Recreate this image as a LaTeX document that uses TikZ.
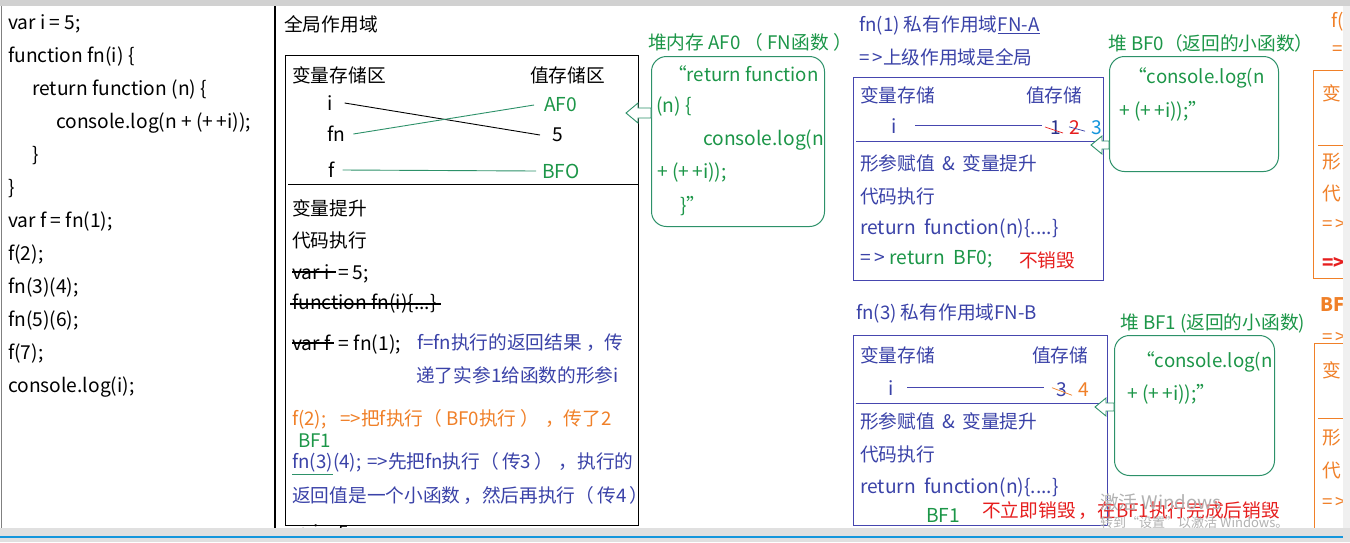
\documentclass[tikz,border=0pt]{standalone}
\usepackage{fontspec}
\setmainfont{Noto Sans CJK SC}
\usetikzlibrary{calc}
\definecolor{tblue}{RGB}{58,66,168}
\definecolor{tbline}{RGB}{70,70,175}
\definecolor{tgreen}{RGB}{28,150,72}
\definecolor{tgline}{RGB}{45,145,105}
\definecolor{torange}{RGB}{240,128,40}
\definecolor{tred}{RGB}{230,30,30}
\definecolor{tcyan}{RGB}{20,150,220}
\definecolor{tdark}{RGB}{40,50,140}
\newcommand\fsz{\fontsize{18.7}{20}\selectfont}
\newcommand\fsl{\fontsize{19.2}{20}\selectfont}
\newcommand\fsm{\fontsize{13}{15}\selectfont}
\begin{document}
\begin{tikzpicture}[x=1pt,y=-1pt,
  t/.style={anchor=west,inner sep=0pt,font=\fsz},
  tl/.style={t,font=\fsl},
  tb/.style={t,anchor=base west},
  bx/.style={draw,line width=1pt,anchor=north west,inner sep=0pt},
  heap/.style={bx,draw=tgline,rounded corners=15pt},
  harrow/.style={draw=tgline,line width=0.9pt,fill=white},
  strike/.style={line width=1.1pt}]
\useasboundingbox (0,0) rectangle (1350,542);
\fill[white] (0,0) rectangle (1350,542);

% ---------------- left code panel
\node[tl] (c1) at (8,24) {var i = 5;};
\node[tl] (c2) at (8,57) {function fn(i) \{};
\node[tl] (c3) at (32,90) {return function (n) \{};
\node[tl] (c4) at (56,123) {console.log(n + (+\,+i));};
\node[tl] (c5) at (32,156) {\}};
\node[tl] (c6) at (8,189) {\}};
\node[tl] (c7) at (8,222) {var f = fn(1);};
\node[tl] (c8) at (8,255) {f(2);};
\node[tl] (c9) at (8,288) {fn(3)(4);};
\node[tl] (c10) at (8,321) {fn(5)(6);};
\node[tl] (c11) at (8,354) {f(7);};
\node[tl] (c12) at (8,387) {console.log(i);};

% ---------------- global scope
\node[t] (gtitle) at (284,24) {全局作用域};
\node[bx,minimum width=353pt,minimum height=470pt] (gbox) at (285,55) {};
\coordinate (gl) at (288,184);
\draw[line width=1pt] (gl) -- (gbox.east |- gl);
\node[t] (vs) at (292,75) {变量存储区};
\node[t] (zs) at (530,75) {值存储区};
\node[tl] (gi) at (327,103) {i};
\node[tl] (gfn) at (327,134) {fn};
\node[tl] (gf) at (328,170) {f};
\node[tl,text=tgreen] (af0) at (544,105) {AF0};
\node[tl] (g5) at (552,135) {5};
\node[tl,text=tgreen] (bfo) at (542,171) {BFO};
\draw[line width=0.9pt] ([xshift=12pt]gi.east) -- ([xshift=-12pt]g5.west);
\draw[tgline,line width=0.9pt] ([xshift=8pt]gfn.east) -- ([xshift=-10pt]af0.west);
\draw[tgline,line width=0.9pt] ([xshift=8pt]gf.east) -- ([xshift=-6pt]bfo.west);

\node[t] (hs) at (292,208) {变量提升};
\node[t] (dz) at (292,240) {代码执行};
\node[tl] (vi) at (292,272) {var i};
\node[tl,anchor=base west] (vi2) at ([xshift=8pt]vi.base east) {= 5;};
\draw[strike] (vi.west) -- ([xshift=6pt]vi.east);
\node[tl] (ff) at (292,304) {function fn(i)\{...\}};
\draw[strike] ([xshift=-2pt]ff.west) -- ([xshift=4pt]ff.east);
\node[tl] (vf) at (292,343) {var f};
\node[tl,anchor=base west] (vf2) at ([xshift=8pt]vf.base east) {= fn(1);};
\draw[strike] (vf.west) -- ([xshift=3pt]vf.east);
\node[t,text=tblue] (n1) at (417,343) {f=fn执行的返回结果\hspace{4pt}，传};
\node[t,text=tblue] (n2) at (416,375) {递了实参1给函数的形参i};
\node[t,text=torange] (n3) at (292,419) {f(2);\hspace{14pt}=>把f执行（\hspace{4pt}BF0执行\hspace{4pt}）\hspace{6pt}，传了2};
\node[t,text=tgreen] (n4) at (298,441) {BF1};
\node[t,text=tblue] (n5a) at (292,463) {fn(3)};
\node[tb,text=tblue] (n5) at (n5a.base east) {(4);\hspace{6pt}=>先把fn执行（\hspace{3pt}传3\hspace{3pt}）\hspace{6pt}，执行的};
\draw[tgline,line width=1pt] ([yshift=-2pt]n5a.south west) -- ([yshift=-2pt]n5a.south east);
\node[t,text=tblue] (n6) at (292,495) {返回值是一个小函数\hspace{3pt}，然后再执行（\hspace{3pt}传4\hspace{3pt}）};
\node[tl] (n7) at (292,532) {=>i = 5};

% ---------------- heap AF0
\node[t,text=tgreen] (afT) at (648,42) {堆内存 AF0 （ FN函数 ）};
\node[heap,minimum width=173pt,minimum height=170pt] (afbox) at (651,56) {};
\node[t,text=tgreen] at (668,74) {“return function};
\node[tl,text=tgreen] at (656,107) {(n) \{};
\node[tl,text=tgreen] at (703,140) {console.log(n};
\node[tl,text=tgreen] at (657,173) {+ (+\,+i));};
\node[tl,text=tgreen] at (680,206) {\}”};
\coordinate (a1) at ([yshift=-57pt]afbox.north west);
\draw[harrow] (a1) ++(0,-5) -- ++(-13,0) -- ++(0,-5) -- ++(-12,10) -- ++(12,10) -- ++(0,-5) -- ++(13,0) -- cycle;

% ---------------- fn(1) scope FN-A
\node[t,text=tblue] (faT) at (859,25) {fn(1) 私有作用域};
\node[tb,text=tblue] (fna) at (faT.base east) {FN-A};
\draw[tblue,line width=1pt] ([yshift=-2pt]fna.south west) -- ([yshift=-2pt]fna.south east);
\node[t,text=tblue] (faU) at (859,57) {=\,>上级作用域是全局};
\node[bx,draw=tbline,minimum width=250pt,minimum height=203pt] (fabox) at (853,77) {};
\coordinate (fl) at (856,141);
\draw[tbline,line width=1pt] (fl) -- (fabox.east |- fl);
\node[t,text=tblue] at (860,95) {变量存储};
\node[t,text=tblue] at (1026,95) {值存储};
\node[tl,text=tblue] (fai) at (891,126) {i};
\draw[tbline,line width=1pt] (915,125) -- (1042,125);
\node[tl,text=tdark] (v1) at (1050,128) {1};
\node[tl,text=tred] (v2) at (1069,128) {2};
\node[tl,text=tcyan] (v3) at (1091,128) {3};
\draw[tred,line width=0.7pt] ([shift={(-5,6)}]v1.north west) -- ([shift={(2,-2)}]v1.south east);
\draw[tblue,line width=0.7pt] ([shift={(0,6)}]v2.north west) -- ([shift={(5,-4)}]v2.south east);
\node[t,text=tblue] at (860,163) {形参赋值 \,\&\, 变量提升};
\node[t,text=tblue] at (860,196) {代码执行};
\node[tl,text=tblue] at (860,229) {return\ \ function(n)\{....\}};
\node[tl,text=tblue] (ra) at (860,259) {=\,>};
\node[tl,anchor=base west,text=tgreen] (rb) at (ra.base east) {\ return\ \ BF0;};
\node[t,text=tred] at (1019,260) {不销毁};

% ---------------- heap BF0
\node[t,text=tgreen] (b0T) at (1108,43) {堆 BF0（返回的小函数）};
\node[heap,minimum width=169pt,minimum height=115pt] (b0box) at (1109,56) {};
\node[t,text=tgreen] at (1128,78) {“console.log(n};
\node[tl,text=tgreen] at (1119,111) {+ (+\,+i));”};
\coordinate (a2) at ([yshift=-89pt]b0box.north west);
\draw[harrow] (a2) ++(0,-4) -- ++(-7,0) -- ++(0,-5) -- ++(-11,9) -- ++(11,9) -- ++(0,-5) -- ++(7,0) -- cycle;

% ---------------- fn(3) scope FN-B
\node[t,text=tblue] (fbT) at (856,313) {fn(3) 私有作用域FN-B};
\node[bx,draw=tbline,minimum width=254pt,minimum height=190pt] (fbbox) at (853,335) {};
\coordinate (fbl) at (856,403);
\draw[tbline,line width=1pt] (fbl) -- (fbbox.east |- fbl);
\node[t,text=tblue] at (860,355) {变量存储};
\node[t,text=tblue] at (1032,355) {值存储};
\node[tl,text=tblue] (fbi) at (888,388) {i};
\draw[tbline,line width=1pt] (907,387) -- (1044,387);
\node[tl,text=tblue] (w3) at (1056,390) {3};
\node[tl,text=torange] (w4) at (1078,390) {4};
\draw[torange,line width=0.7pt] ([shift={(-4,5)}]w3.north west) -- ([shift={(5,-2)}]w3.south east);
\node[t,text=tblue] at (860,421) {形参赋值 \,\&\, 变量提升};
\node[t,text=tblue] at (860,454) {代码执行};
\node[tl,text=tblue] at (860,488) {return\ \ function(n)\{....\}};
\node[tl,text=tgreen] at (926,515) {BF1};
\node[t,text=tred] at (982,511) {不立即销毁\hspace{3pt}，在BF1执行完成后销毁};

% ---------------- heap BF1
\node[t,text=tgreen] (b1T) at (1120,323) {堆 BF1 (返回的小函数)};
\node[heap,minimum width=160pt,minimum height=140pt] (b1box) at (1114,335) {};
\node[t,text=tgreen] at (1136,362) {“console.log(n};
\node[tl,text=tgreen] at (1127,394) {+ (+\,+i));”};
\coordinate (a3) at ([yshift=-72pt]b1box.north west);
\draw[harrow] (a3) ++(0,-4) -- ++(-8,0) -- ++(0,-5) -- ++(-11,9) -- ++(11,9) -- ++(0,-5) -- ++(8,0) -- cycle;

% ---------------- cut-off right column
\begin{scope}
\clip (1290,0) rectangle (1343,542);
\node[t,text=torange] at (1331,22) {f(};
\node[t,text=torange] at (1332,50) {=\,>};
\node[bx,draw=torange,minimum width=60pt,minimum height=208pt] (r1) at (1313,70) {};
\draw[torange,line width=1pt] (1318,145) -- (1345,145);
\node[t,text=torange] at (1322,93) {变};
\node[t,text=torange] at (1322,162) {形};
\node[t,text=torange] at (1322,193) {代};
\node[t,text=torange] at (1322,225) {=\,>};
\node[t,text=tred,font=\fsz\bfseries] at (1322,263) {=>};
\node[t,text=torange,font=\fsz\bfseries] at (1320,305) {BF};
\node[t,text=torange] at (1322,338) {=\,>};
\node[bx,draw=torange,minimum width=60pt,minimum height=190pt] (r2) at (1314,343) {};
\draw[torange,line width=1pt] (1318,418) -- (1345,418);
\node[t,text=torange] at (1322,370) {变};
\node[t,text=torange] at (1322,438) {形};
\node[t,text=torange] at (1322,470) {代};
\node[t,text=torange] at (1322,503) {=\,>};
\end{scope}

% ---------------- watermark
\node[t,text=black!30] at (1100,502) {激活 Windows};
\node[t,text=black!30,font=\fsm] at (1100,523) {转到“设置”以激活 Windows。};

% ---------------- window chrome
\fill[black!6] (1343,6) rectangle (1350,528);
\fill[black!18] (0,0) rectangle (1350,6);
\draw[black!50,line width=1pt] (1,6) -- (1,528);
\draw[line width=1.6pt] (275,6) -- (275,528);
\fill[black!12] (0,528) rectangle (1350,542);
\draw[tcyan,line width=2pt] (0,537) -- (1343,537);
\end{tikzpicture}
\end{document}
